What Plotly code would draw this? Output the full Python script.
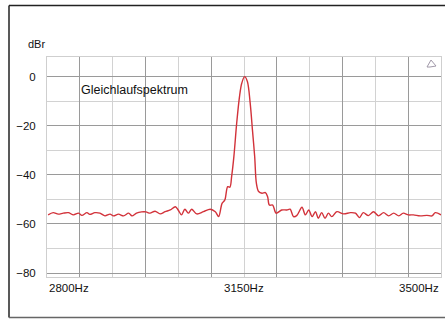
import plotly.graph_objects as go

# Frequency (Hz) and level (dBr)
freq_hz = [2802, 2811, 2820, 2829, 2838, 2847, 2856, 2862, 2871, 2876, 2885, 2894,
           2903, 2912, 2918, 2927, 2936, 2945, 2951, 2959, 2968, 2976, 2983, 2992,
           3001, 3010, 3019, 3028, 3033, 3039, 3045, 3051, 3057, 3066, 3078, 3090,
           3099, 3105, 3111, 3116, 3121, 3125, 3128, 3132, 3137, 3142, 3146, 3151,
           3156, 3161, 3165, 3169, 3172, 3176, 3182, 3188, 3192, 3195, 3201, 3207,
           3217, 3226, 3232, 3238, 3244, 3253, 3259, 3265, 3271, 3277, 3282, 3288,
           3294, 3300, 3306, 3315, 3327, 3339, 3348, 3355, 3362, 3371, 3380, 3389,
           3398, 3407, 3416, 3425, 3433, 3442, 3451, 3463, 3475, 3484, 3490, 3500]
level_dbr = [-56.3, -55.4, -56.0, -55.6, -55.4, -56.3, -55.6, -56.5, -55.4, -56.1, -55.4, -55.6,
             -56.7, -56.0, -56.7, -56.0, -56.7, -55.6, -56.7, -55.6, -55.1, -55.1, -55.6, -54.8,
             -55.9, -55.0, -54.3, -53.0, -54.3, -56.3, -54.0, -55.6, -54.0, -55.9, -55.0, -54.0,
             -55.0, -57.0, -51.6, -50.2, -44.8, -45.0, -40.7, -32.6, -19.0, -8.1, -2.7, 0.0,
             -2.0, -10.8, -21.7, -32.6, -43.4, -46.8, -47.5, -47.2, -48.9, -52.3, -52.3, -55.6,
             -54.3, -54.3, -54.0, -57.0, -56.5, -53.2, -56.3, -54.3, -57.0, -55.0, -57.7, -55.4,
             -57.7, -55.6, -57.0, -55.0, -55.9, -55.4, -55.6, -57.4, -55.4, -56.6, -55.0, -56.7,
             -55.4, -56.7, -55.6, -56.7, -55.6, -56.3, -56.3, -56.7, -56.5, -56.7, -55.4, -56.3]

x_tick_vals = [2800, 3150, 3500]
x_tick_text = ["2800Hz", "3150Hz", "3500Hz"]
x_tick_anchor = ["left", "center", "right"]
y_tick_vals = [0, -20, -40, -60, -80]

FONT = "Liberation Sans, Arial, sans-serif"

fig = go.Figure()
fig.add_trace(go.Scatter(
    x=freq_hz, y=level_dbr, mode="lines",
    line=dict(color="#d2323a", width=1.4, shape="spline", smoothing=0.9),
    hoverinfo="skip", showlegend=False,
))

L, R, T, B = 47, 4, 57, 42
W, H = 445, 319
pw, ph = W - L - R, H - T - B

def px_x(p):
    return (p - L) / pw

def px_y(p):
    return (H - B - p) / ph

fig.update_layout(
    width=W, height=H,
    margin=dict(l=L, r=R, t=T, b=B, pad=0),
    paper_bgcolor="white", plot_bgcolor="white",
    font=dict(family=FONT, size=11.5, color="#111"),
    xaxis=dict(
        range=[2800, 3500], showticklabels=False, ticks="",
        tick0=2800 + 700 / 12, dtick=700 / 6,
        showgrid=True, gridcolor="#9a9a9a", gridwidth=1,
        minor=dict(tick0=2800, dtick=700 / 12, showgrid=True, gridcolor="#d2d2d2", gridwidth=1),
        showline=True, mirror=True, linecolor="#cfcfcf", linewidth=1,
        zeroline=False, fixedrange=True,
    ),
    yaxis=dict(
        range=[-81.6, 8.0], tickvals=y_tick_vals, ticks="",
        ticklabelstandoff=8,
        showgrid=True, gridcolor="#9a9a9a", gridwidth=1,
        minor=dict(tick0=0, dtick=10, showgrid=True, gridcolor="#d2d2d2", gridwidth=1),
        showline=True, mirror=True, linecolor="#cfcfcf", linewidth=1,
        zeroline=False, fixedrange=True,
        tickfont=dict(size=11.5, color="#111"),
    ),
)

for v, t, a in zip(x_tick_vals, x_tick_text, x_tick_anchor):
    fig.add_annotation(x=v, y=px_y(288), xref="x", yref="paper", text=t,
                       showarrow=False, xanchor=a, yanchor="middle",
                       font=dict(size=11.5, color="#111"))

fig.add_annotation(x=px_x(26), y=px_y(44), xref="paper", yref="paper", text="dBr",
                   showarrow=False, xanchor="left", yanchor="middle",
                   font=dict(size=11, color="#111"))
fig.add_annotation(x=px_x(79), y=px_y(90), xref="paper", yref="paper",
                   text="Gleichlaufspektrum", showarrow=False, xanchor="left",
                   yanchor="middle", font=dict(size=12.5, color="#111"))

# outer frame
fig.add_shape(type="line", xref="paper", yref="paper",
              x0=px_x(9), x1=px_x(447), y0=px_y(5.5), y1=px_y(5.5),
              line=dict(color="#222", width=1.5))
fig.add_shape(type="line", xref="paper", yref="paper",
              x0=px_x(9), x1=px_x(9), y0=px_y(5.5), y1=px_y(317.5),
              line=dict(color="#222", width=1.5))
fig.add_shape(type="line", xref="paper", yref="paper",
              x0=px_x(9), x1=px_x(447), y0=px_y(317.5), y1=px_y(317.5),
              line=dict(color="#666", width=1.5))

# small logo mark top-right
pts = [(427, 67), (431, 60), (436, 66), (430, 67), (427, 67)]
path = "M " + " L ".join(f"{px_x(a)},{px_y(b)}" for a, b in pts)
fig.add_shape(type="path", xref="paper", yref="paper", path=path,
              line=dict(color="#a098a8", width=1))

fig.write_html(
    "out.html",
    config={"displayModeBar": False, "staticPlot": True},
    post_script="document.body.style.margin='0';document.body.style.overflow='hidden';",
)
